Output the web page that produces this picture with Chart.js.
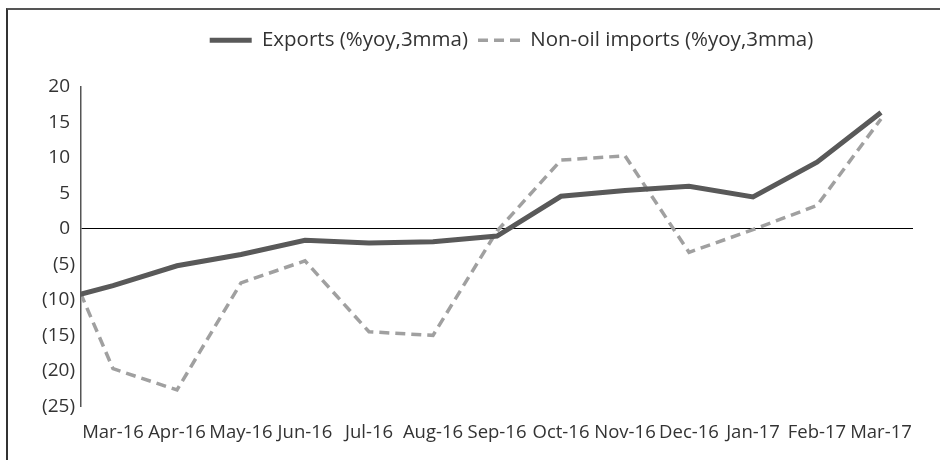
<!DOCTYPE html>
<html>
<head>
<meta charset="utf-8">
<script src="https://cdn.jsdelivr.net/npm/chart.js@4.4.1/dist/chart.umd.min.js"></script>
<style>
  html, body { margin: 0; padding: 0; background: #fff; }
  #wrap { position: relative; width: 940px; height: 460px; overflow: hidden; }
  #frame {
    position: absolute; left: 6px; top: 8px; right: -4px; bottom: -4px;
    border-top: 2px solid #555; border-left: 2px solid #333;
  }
  canvas { position: absolute; left: 0; top: 0; }
</style>
</head>
<body>
<div id="wrap">
  <div id="frame"></div>
  <canvas id="tradeChart" width="940" height="460"></canvas>
</div>
<script>
// months (Feb-16 sits just left of the plot and is clipped)
const months = ["Feb-16", "Mar-16", "Apr-16", "May-16", "Jun-16", "Jul-16", "Aug-16",
  "Sep-16", "Oct-16", "Nov-16", "Dec-16", "Jan-17", "Feb-17", "Mar-17"];
const exportsYoy = [-10.4, -8.0, -5.2, -3.6, -1.6, -2.0, -1.8, -1.0, 4.6, 5.4, 6.0, 4.5, 9.4, 16.4];
const nonOilImportsYoy = [1.3, -19.7, -22.7, -7.6, -4.5, -14.5, -15.0, -0.3, 9.7, 10.3, -3.3, -0.1, 3.3, 15.5];
const yTicks = [-25, -20, -15, -10, -5, 0, 5, 10, 15, 20];

const font = "'Open Sans', 'DejaVu Sans', sans-serif";
const textColor = "#333";

function toPoints(values) {
  return values.map((v, i) => ({ x: i, y: v }));
}

// accounting style: negatives in brackets, positives padded
function fmt(v) {
  return v < 0 ? "(" + Math.abs(v) + ")" : v + " ";
}

// push the plot down below the legend, and nudge the legend right
const legendGap = {
  id: "legendGap",
  beforeInit(chart) {
    const fit = chart.legend.fit;
    chart.legend.fit = function () {
      fit.bind(chart.legend)();
      this.height += 26.5;
    };
  },
  afterLayout(chart) {
    chart.legend.left += 55;
    chart.legend.right += 55;
  },
};

const ctx = document.getElementById("tradeChart").getContext("2d");
new Chart(ctx, {
  type: "line",
  data: {
    datasets: [
      {
        label: "Exports (%yoy,3mma)",
        data: toPoints(exportsYoy),
        borderColor: "#595959",
        backgroundColor: "#595959",
        borderWidth: 5,
        pointRadius: 0,
        tension: 0,
        clip: 0,
      },
      {
        label: "Non-oil imports (%yoy,3mma)",
        data: toPoints(nonOilImportsYoy),
        borderColor: "#a0a0a0",
        backgroundColor: "#a0a0a0",
        borderWidth: 3.5,
        borderDash: [10, 6],
        pointRadius: 0,
        tension: 0,
        clip: 0,
      },
    ],
  },
  plugins: [legendGap],
  options: {
    responsive: false,
    animation: false,
    layout: { padding: { top: 20, right: 27, left: 0, bottom: 0.5 } },
    plugins: {
      tooltip: { enabled: false },
      legend: {
        display: true,
        position: "top",
        labels: {
          color: textColor,
          font: { family: font, size: 20.5 },
          usePointStyle: true,
          pointStyle: "line",
          pointStyleWidth: 42,
          boxHeight: 10,
          padding: 10,
          generateLabels: (chart) =>
            Chart.defaults.plugins.legend.labels.generateLabels(chart).map((item, i) => {
              const ds = chart.data.datasets[i];
              return Object.assign(item, {
                lineDash: ds.borderDash || [],
                lineWidth: ds.borderWidth,
                strokeStyle: ds.borderColor,
              });
            }),
        },
      },
    },
    scales: {
      x: {
        type: "linear",
        min: 0.5,
        max: months.length - 0.5,
        afterBuildTicks: (scale) => {
          scale.ticks = months.map((m, i) => ({ value: i })).filter((t) => t.value >= 1);
        },
        ticks: {
          color: textColor,
          font: { family: font, size: 18.5 },
          autoSkip: false,
          maxRotation: 0,
          padding: 15.5,
          callback: (v) => months[v],
        },
        grid: { display: false, drawTicks: false },
        border: { display: false },
      },
      y: {
        min: yTicks[0],
        max: yTicks[yTicks.length - 1],
        afterBuildTicks: (scale) => {
          scale.ticks = yTicks.map((v) => ({ value: v }));
        },
        afterFit: (scale) => {
          scale.width = 81;
        },
        ticks: {
          color: textColor,
          font: { family: font, size: 19 },
          padding: 6,
          callback: (v) => fmt(v),
        },
        grid: {
          drawTicks: false,
          color: (c) => (c.tick && c.tick.value === 0 ? "#000" : "rgba(0,0,0,0)"),
          lineWidth: 1,
        },
        border: { display: true, color: "#555", width: 1.5 },
      },
    },
  },
});
</script>
</body>
</html>
